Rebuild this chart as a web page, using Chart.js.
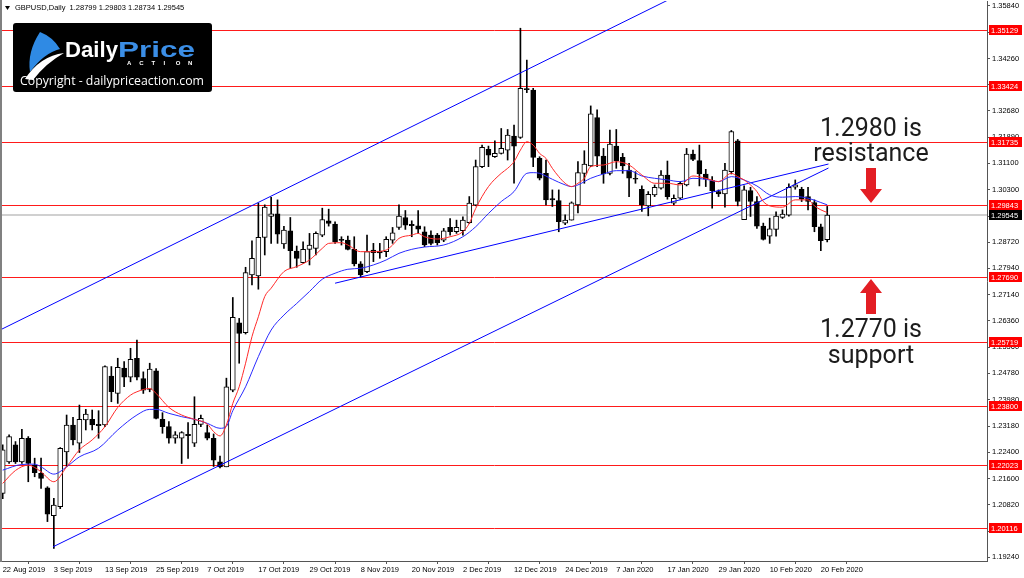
<!DOCTYPE html>
<html>
<head>
<meta charset="utf-8">
<script src="https://cdn.jsdelivr.net/npm/chart.js@4.4.0/dist/chart.umd.min.js"></script>
<style>
  html, body { margin: 0; padding: 0; background: #ffffff; }
  canvas { display: block; }
</style>
</head>
<body>
<canvas id="grafica" width="1024" height="578"></canvas>
<script>
// Etiquetas del eje de tiempo (una cada 8 velas)
var fechas = ['22 Aug 2019', '3 Sep 2019', '13 Sep 2019', '25 Sep 2019', '7 Oct 2019', '17 Oct 2019',
  '29 Oct 2019', '8 Nov 2019', '20 Nov 2019', '2 Dec 2019', '12 Dec 2019', '24 Dec 2019',
  '7 Jan 2020', '17 Jan 2020', '29 Jan 2020', '10 Feb 2020', '20 Feb 2020'];
var velasPorFecha = 8;

// Velas diarias GBPUSD (apertura, maximo, minimo, cierre)
var abre = [
  1.2116, 1.2211, 1.2262, 1.2211, 1.2282, 1.2201, 1.2176, 1.2133, 1.2049, 1.2076,
  1.2241, 1.2322, 1.2267, 1.2337, 1.2339, 1.2324, 1.2322, 1.2469, 1.2417, 1.2493,
  1.2466, 1.2523, 1.2462, 1.2429, 1.2485, 1.2339, 1.2317, 1.2282, 1.2282, 1.2294,
  1.2267, 1.2324, 1.2299, 1.2282, 1.2211, 1.2196, 1.2427, 1.2630, 1.2600, 1.2774,
  1.2771, 1.2887, 1.2950, 1.2958, 1.2867, 1.2907, 1.2846, 1.2811, 1.2851, 1.2854,
  1.2894, 1.2937, 1.2927, 1.2880, 1.2879, 1.2851, 1.2807, 1.2784, 1.2849, 1.2846,
  1.2844, 1.2879, 1.2917, 1.2947, 1.2926, 1.2922, 1.2904, 1.2894, 1.2894, 1.2879,
  1.2917, 1.2904, 1.2907, 1.2931, 1.2984, 1.3100, 1.3152, 1.3130, 1.3140, 1.3150,
  1.3192, 1.3188, 1.3335, 1.3331, 1.3125, 1.3080, 1.3004, 1.2998, 1.2930, 1.2939,
  1.2985, 1.3080, 1.3102, 1.3248, 1.3132, 1.3080, 1.3162, 1.3128, 1.3090, 1.3065,
  1.3032, 1.2982, 1.3015, 1.3035, 1.3075, 1.2990, 1.3005, 1.3045, 1.3138, 1.3118,
  1.3078, 1.3058, 1.3025, 1.3018, 1.3085, 1.3178, 1.2940, 1.3028, 1.2995, 1.2921,
  1.2891, 1.2911, 1.2947, 1.2954, 1.3038, 1.3032, 1.3010, 1.2992, 1.2919, 1.28799];
var maximo = [
  1.2262, 1.2292, 1.2272, 1.2309, 1.2287, 1.2222, 1.2222, 1.2136, 1.2101, 1.2254,
  1.2352, 1.2345, 1.2382, 1.2369, 1.2367, 1.2365, 1.2500, 1.2498, 1.2523, 1.2513,
  1.2553, 1.2578, 1.2482, 1.2508, 1.2492, 1.2359, 1.2332, 1.2302, 1.2302, 1.2329,
  1.2407, 1.2352, 1.2322, 1.2295, 1.2228, 1.2463, 1.2706, 1.2643, 1.2797, 1.2877,
  1.2990, 1.2985, 1.3008, 1.3000, 1.2920, 1.2947, 1.2861, 1.2874, 1.2899, 1.2904,
  1.2975, 1.2972, 1.2934, 1.2889, 1.2891, 1.2889, 1.2814, 1.2894, 1.2869, 1.2869,
  1.2889, 1.2917, 1.2985, 1.2968, 1.2937, 1.2968, 1.2919, 1.2907, 1.2899, 1.2914,
  1.2944, 1.2939, 1.2949, 1.3010, 1.3120, 1.3165, 1.3162, 1.3178, 1.3215, 1.3212,
  1.3225, 1.3517, 1.3421, 1.3336, 1.3130, 1.3120, 1.3030, 1.3030, 1.2955, 1.2994,
  1.3115, 1.3148, 1.3283, 1.3271, 1.3155, 1.3210, 1.3212, 1.3140, 1.3110, 1.3085,
  1.3042, 1.3025, 1.3045, 1.3088, 1.3117, 1.3015, 1.3055, 1.3155, 1.3150, 1.3165,
  1.3092, 1.3070, 1.3030, 1.3110, 1.3209, 1.3182, 1.3042, 1.3038, 1.3010, 1.2930,
  1.2945, 1.2964, 1.2970, 1.3048, 1.3060, 1.3038, 1.3038, 1.3000, 1.2927, 1.29803];
var minimo = [
  1.2100, 1.2206, 1.2206, 1.2206, 1.2151, 1.2166, 1.2131, 1.2031, 1.1950, 1.2070,
  1.2197, 1.2262, 1.2239, 1.2307, 1.2307, 1.2282, 1.2317, 1.2392, 1.2387, 1.2437,
  1.2452, 1.2458, 1.2417, 1.2422, 1.2340, 1.2297, 1.2267, 1.2267, 1.2206, 1.2221,
  1.2257, 1.2317, 1.2277, 1.2197, 1.2193, 1.2196, 1.2422, 1.2508, 1.2596, 1.2744,
  1.2731, 1.2834, 1.2869, 1.2869, 1.2854, 1.2794, 1.2797, 1.2809, 1.2804, 1.2834,
  1.2889, 1.2921, 1.2869, 1.2864, 1.2849, 1.2801, 1.2767, 1.2781, 1.2814, 1.2824,
  1.2829, 1.2869, 1.2911, 1.2911, 1.2889, 1.2899, 1.2859, 1.2864, 1.2864, 1.2874,
  1.2894, 1.2899, 1.2894, 1.2929, 1.2982, 1.3097, 1.3100, 1.3128, 1.3138, 1.3120,
  1.3050, 1.3185, 1.3323, 1.3100, 1.3060, 1.2985, 1.2980, 1.2904, 1.2925, 1.2939,
  1.2961, 1.3050, 1.3100, 1.3100, 1.3050, 1.3075, 1.3095, 1.3080, 1.3010, 1.3050,
  1.2965, 1.2952, 1.3010, 1.3032, 1.3002, 1.2985, 1.3002, 1.3042, 1.3118, 1.3042,
  1.3040, 1.2975, 1.3010, 1.2978, 1.3078, 1.2982, 1.2940, 1.2950, 1.2914, 1.2879,
  1.2869, 1.2891, 1.2944, 1.2951, 1.3032, 1.2995, 1.2970, 1.2904, 1.2847, 1.28734];
var cierre = [
  1.2247, 1.2287, 1.2211, 1.2282, 1.2206, 1.2178, 1.2161, 1.2053, 1.2081, 1.2252,
  1.2322, 1.2277, 1.2339, 1.2355, 1.2322, 1.2320, 1.2498, 1.2422, 1.2496, 1.2466,
  1.2520, 1.2466, 1.2427, 1.2490, 1.2342, 1.2317, 1.2282, 1.2292, 1.2299, 1.2290,
  1.2324, 1.2342, 1.2282, 1.2216, 1.2196, 1.2437, 1.2646, 1.2598, 1.2781, 1.2824,
  1.2887, 1.2978, 1.2958, 1.2897, 1.2909, 1.2847, 1.2824, 1.2851, 1.2864, 1.2899,
  1.2941, 1.2929, 1.2874, 1.2878, 1.2851, 1.2807, 1.2774, 1.2844, 1.2841, 1.2840,
  1.2881, 1.2901, 1.2951, 1.2924, 1.2922, 1.2912, 1.2864, 1.2869, 1.2871, 1.2907,
  1.2904, 1.2917, 1.2939, 1.2990, 1.3100, 1.3158, 1.3135, 1.3140, 1.3155, 1.3195,
  1.3162, 1.3336, 1.3332, 1.3128, 1.3065, 1.3000, 1.3000, 1.2934, 1.2939, 1.2991,
  1.3082, 1.3108, 1.3259, 1.3132, 1.3078, 1.3168, 1.3118, 1.3102, 1.3065, 1.3062,
  1.2985, 1.3017, 1.3038, 1.3075, 1.3010, 1.3005, 1.3050, 1.3138, 1.3122, 1.3078,
  1.3062, 1.3028, 1.3018, 1.3090, 1.3206, 1.2995, 1.3030, 1.2995, 1.2921, 1.2881,
  1.2913, 1.2951, 1.2957, 1.3038, 1.3045, 1.3002, 1.2995, 1.2919, 1.2877, 1.29545];

// Medias moviles (indice de vela, precio)
var mediaRapidaX = [0, 2, 4, 5, 6, 8, 10, 12, 14, 16, 18, 20, 21, 23, 24, 26, 28, 30, 32, 33,
  34, 35, 36, 37, 38, 39, 40, 41, 42, 44, 46, 48, 50, 51, 53, 54, 56, 58, 60, 61,
  62, 64, 65, 66, 68, 70, 72, 73, 74, 76, 78, 79, 80, 81, 82, 83, 84, 85, 86, 87,
  88, 89, 90, 91, 92, 94, 96, 98, 100, 102, 104, 106, 108, 110, 112, 114, 115, 116, 117, 118,
  119, 120, 122, 124, 126, 127, 128, 129];
var mediaRapidaY = [1.2146, 1.2185, 1.2201, 1.2194, 1.2181, 1.2151, 1.2196, 1.2247, 1.2277, 1.2317,
  1.2375, 1.2412, 1.2422, 1.2432, 1.2417, 1.2375, 1.2352, 1.2339, 1.2325, 1.2302,
  1.2289, 1.2322, 1.2387, 1.2437, 1.2508, 1.2588, 1.2648, 1.2709, 1.2734, 1.2784,
  1.2799, 1.2819, 1.2854, 1.2869, 1.2871, 1.2864, 1.2844, 1.2844, 1.2849, 1.2864,
  1.2884, 1.2894, 1.2899, 1.2889, 1.2882, 1.2889, 1.2904, 1.2929, 1.2974, 1.3040,
  1.3080, 1.3095, 1.3115, 1.3150, 1.3175, 1.3165, 1.3140, 1.3125, 1.3095, 1.3070,
  1.3050, 1.3040, 1.3050, 1.3065, 1.3100, 1.3105, 1.3115, 1.3105, 1.3075, 1.3050,
  1.3050, 1.3045, 1.3072, 1.3065, 1.3055, 1.3080, 1.3070, 1.3060, 1.3045, 1.3025,
  1.2995, 1.2982, 1.2978, 1.3000, 1.3000, 1.2982, 1.2970, 1.2962];
var mediaLentaX = [0, 3, 5, 6, 8, 10, 12, 15, 18, 21, 23, 24, 26, 28, 30, 32, 34, 35, 36, 38,
  40, 42, 44, 46, 48, 50, 52, 54, 56, 58, 60, 62, 64, 66, 69, 72, 74, 76, 78, 80,
  82, 83, 84, 86, 88, 89, 90, 92, 94, 96, 98, 100, 102, 104, 106, 108, 110, 112, 114, 116,
  118, 120, 122, 124, 126, 128, 129];
var mediaLentaY = [1.2186, 1.2203, 1.2204, 1.2196, 1.2174, 1.2196, 1.2226, 1.2252, 1.2307, 1.2352,
  1.2369, 1.2369, 1.2357, 1.2347, 1.2339, 1.2327, 1.2312, 1.2318, 1.2365, 1.2437,
  1.2528, 1.2608, 1.2653, 1.2688, 1.2724, 1.2761, 1.2779, 1.2791, 1.2794, 1.2804,
  1.2819, 1.2839, 1.2851, 1.2858, 1.2864, 1.2889, 1.2919, 1.2959, 1.2995, 1.3025,
  1.3080, 1.3082, 1.3080, 1.3062, 1.3045, 1.3040, 1.3045, 1.3065, 1.3078, 1.3088,
  1.3088, 1.3072, 1.3065, 1.3060, 1.3055, 1.3065, 1.3062, 1.3055, 1.3070, 1.3060,
  1.3042, 1.3015, 1.3008, 1.3010, 1.3005, 1.2992, 1.2985];

// Lineas de tendencia (dos puntos cada una)
var canalSuperiorX = [-0.42, 104.1];
var canalSuperiorY = [1.2608, 1.3602];
var canalInferiorX = [7.87, 129.2];
var canalInferiorY = [1.1955, 1.3096];
var soporteX = [52, 129.2];
var soporteY = [1.2749, 1.3108];

// Niveles horizontales y eje de precios
var nivelesRojos = [1.35129, 1.33424, 1.31735, 1.29843, 1.27690, 1.25719, 1.23800, 1.22023, 1.20116];
var precioActual = 1.29545;
var marcasPrecio = [1.35840, 1.35050, 1.34260, 1.33470, 1.32680, 1.31890, 1.31100, 1.30300, 1.29510,
  1.28720, 1.27940, 1.27140, 1.26360, 1.25560, 1.24780, 1.23980, 1.23180, 1.22400, 1.21600,
  1.20820, 1.20020, 1.19240];
var encabezado = 'GBPUSD,Daily  1.28799 1.29803 1.28734 1.29545';

Chart.defaults.font.family = '"Liberation Sans", Arial, sans-serif';

function puntos(xs, ys) {
  var r = [];
  for (var k = 0; k < xs.length; k++) r.push({x: xs[k], y: ys[k]});
  return r;
}

var mechas = [], cuerpos = [], coloresCuerpo = [];
for (var i = 0; i < abre.length; i++) {
  mechas.push({x: i, y: [minimo[i], maximo[i]]});
  cuerpos.push({x: i, y: [Math.min(abre[i], cierre[i]), Math.max(abre[i], cierre[i])]});
  coloresCuerpo.push(cierre[i] >= abre[i] ? '#ffffff' : '#000000');
}

function textoAjustado(ctx, texto, x, y, ancho) {
  var w = ctx.measureText(texto).width;
  ctx.save();
  ctx.translate(x, y);
  ctx.scale(ancho / w, 1);
  ctx.fillText(texto, 0, 0);
  ctx.restore();
}

function dibujarLogo(ctx) {
  ctx.save();
  ctx.fillStyle = '#000000';
  ctx.beginPath();
  ctx.roundRect(13, 23, 199, 69, 3);
  ctx.fill();
  // icono
  ctx.fillStyle = '#2f8ae4';
  ctx.beginPath();
  ctx.moveTo(40, 32);
  ctx.quadraticCurveTo(53, 37, 60, 49);
  ctx.quadraticCurveTo(44, 53, 30, 72);
  ctx.quadraticCurveTo(27, 52, 40, 32);
  ctx.fill();
  ctx.fillStyle = '#ffffff';
  ctx.beginPath();
  ctx.moveTo(25, 79);
  ctx.quadraticCurveTo(40, 56, 64, 53);
  ctx.quadraticCurveTo(46, 63, 33, 80);
  ctx.closePath();
  ctx.fill();
  // textos
  ctx.textAlign = 'left';
  ctx.textBaseline = 'alphabetic';
  ctx.font = 'bold 22px "Liberation Sans"';
  ctx.fillStyle = '#ffffff';
  textoAjustado(ctx, 'Daily', 65, 57, 53);
  ctx.fillStyle = '#3b8ee6';
  textoAjustado(ctx, 'Price', 118, 57, 77);
  ctx.fillStyle = '#ffffff';
  ctx.font = 'bold 6px "Liberation Sans"';
  var letras = 'ACTION';
  for (var k = 0; k < letras.length; k++) ctx.fillText(letras[k], 127 + k * 12.2, 65);
  ctx.font = '12px "Open Sans"';
  textoAjustado(ctx, 'Copyright - dailypriceaction.com', 20, 85, 184);
  ctx.restore();
}

function flecha(ctx, x, yPunta, abajo) {
  var s = abajo ? -1 : 1;
  ctx.fillStyle = '#e31e24';
  ctx.beginPath();
  ctx.moveTo(x, yPunta);
  ctx.lineTo(x + 11, yPunta + s * 14);
  ctx.lineTo(x + 5, yPunta + s * 14);
  ctx.lineTo(x + 5, yPunta + s * 35);
  ctx.lineTo(x - 5, yPunta + s * 35);
  ctx.lineTo(x - 5, yPunta + s * 14);
  ctx.lineTo(x - 11, yPunta + s * 14);
  ctx.closePath();
  ctx.fill();
}

var adornos = {
  id: 'adornos',
  beforeDatasetsDraw: function(chart) {
    var ctx = chart.ctx, a = chart.chartArea, ys = chart.scales.y;
    ctx.save();
    ctx.beginPath();
    ctx.rect(a.left, a.top, a.right - a.left, a.bottom - a.top);
    ctx.clip();
    var yp = ys.getPixelForValue(precioActual);
    ctx.strokeStyle = '#d0d0d0';
    ctx.lineWidth = 2;
    ctx.beginPath(); ctx.moveTo(a.left, yp); ctx.lineTo(a.right, yp); ctx.stroke();
    ctx.strokeStyle = '#ff1a1a';
    ctx.lineWidth = 1;
    nivelesRojos.forEach(function(n) {
      var y = Math.round(ys.getPixelForValue(n)) + 0.5;
      ctx.beginPath(); ctx.moveTo(a.left, y); ctx.lineTo(a.right, y); ctx.stroke();
    });
    ctx.restore();
  },
  afterDraw: function(chart) {
    var ctx = chart.ctx, a = chart.chartArea, ys = chart.scales.y;
    ctx.save();
    // marco izquierdo
    ctx.fillStyle = '#808080';
    ctx.fillRect(0, 0, 2, a.bottom + 1);
    // etiquetas de precio
    ctx.font = '7.5px "Liberation Sans"';
    ctx.textBaseline = 'middle';
    ctx.textAlign = 'left';
    function etiqueta(valor, fondo) {
      var y = Math.round(ys.getPixelForValue(valor));
      ctx.fillStyle = fondo;
      ctx.fillRect(a.right + 2, y - 5, 33, 10);
      ctx.fillStyle = '#ffffff';
      ctx.fillText(valor.toFixed(5), a.right + 4, y + 0.5);
    }
    nivelesRojos.forEach(function(n) { etiqueta(n, '#ff0000'); });
    etiqueta(precioActual, '#000000');
    // encabezado
    ctx.fillStyle = '#000000';
    ctx.beginPath();
    ctx.moveTo(5, 6); ctx.lineTo(10, 6); ctx.lineTo(7.5, 10); ctx.closePath();
    ctx.fill();
    ctx.fillText(encabezado, 15, 8);
    dibujarLogo(ctx);
    // anotaciones
    ctx.fillStyle = '#1c1c1c';
    ctx.font = '25px Roboto';
    ctx.textAlign = 'center';
    ctx.textBaseline = 'alphabetic';
    ctx.fillText('1.2980 is', 871, 136);
    ctx.fillText('resistance', 871, 161);
    ctx.fillText('1.2770 is', 871, 336.5);
    ctx.fillText('support', 871, 363);
    flecha(ctx, 871, 203, true);
    flecha(ctx, 871, 279, false);
    ctx.restore();
  }
};

var ctx = document.getElementById('grafica').getContext('2d');
var grafica = new Chart(ctx, {
  type: 'bar',
  data: {
    datasets: [
      { type: 'line', data: puntos(mediaRapidaX, mediaRapidaY), borderColor: '#ff2a2a', borderWidth: 1,
        pointRadius: 0, cubicInterpolationMode: 'monotone', order: 0 },
      { type: 'line', data: puntos(mediaLentaX, mediaLentaY), borderColor: '#2a2aff', borderWidth: 1,
        pointRadius: 0, cubicInterpolationMode: 'monotone', order: 0 },
      { type: 'line', data: puntos(canalSuperiorX, canalSuperiorY), borderColor: '#0000ff', borderWidth: 1,
        pointRadius: 0, order: 0 },
      { type: 'line', data: puntos(canalInferiorX, canalInferiorY), borderColor: '#0000ff', borderWidth: 1,
        pointRadius: 0, order: 0 },
      { type: 'line', data: puntos(soporteX, soporteY), borderColor: '#0000ff', borderWidth: 1,
        pointRadius: 0, order: 0 },
      { type: 'bar', data: cuerpos, backgroundColor: coloresCuerpo, borderColor: '#000000', borderWidth: 1,
        borderSkipped: false, barThickness: 5, minBarLength: 1, grouped: false, order: 1 },
      { type: 'bar', data: mechas, backgroundColor: '#000000', barThickness: 1, grouped: false, order: 2 }
    ]
  },
  options: {
    responsive: false,
    animation: false,
    layout: { padding: { left: 2, top: 1, right: 0, bottom: 0 } },
    plugins: { legend: { display: false }, tooltip: { enabled: false } },
    scales: {
      x: {
        type: 'linear',
        min: -0.11,
        max: 154,
        offset: false,
        grid: { drawOnChartArea: false, drawTicks: true, tickLength: 3, color: '#555555' },
        border: { display: true, color: '#555555' },
        ticks: {
          autoSkip: false, maxRotation: 0, align: 'start', padding: 1, color: '#000000',
          font: { size: 7.5 },
          callback: function(v) { return fechas[Math.round(v / velasPorFecha)]; }
        },
        afterBuildTicks: function(s) {
          s.ticks = fechas.map(function(f, k) { return { value: k * velasPorFecha }; });
        },
        afterFit: function(s) { s.height = 17; s.paddingLeft = 0; s.paddingRight = 0; }
      },
      y: {
        position: 'right',
        min: 1.19123,
        max: 1.3599,
        grid: { drawOnChartArea: false, drawTicks: true, tickLength: 3, color: '#555555' },
        border: { display: true, color: '#555555' },
        ticks: {
          autoSkip: false, padding: 2, color: '#000000', font: { size: 7.5 },
          callback: function(v) { return v.toFixed(5); }
        },
        afterBuildTicks: function(s) {
          s.ticks = marcasPrecio.map(function(v) { return { value: v }; });
        },
        afterFit: function(s) { s.width = 37; s.paddingTop = 0; s.paddingBottom = 0; }
      }
    }
  },
  plugins: [adornos]
});
</script>
</body>
</html>
